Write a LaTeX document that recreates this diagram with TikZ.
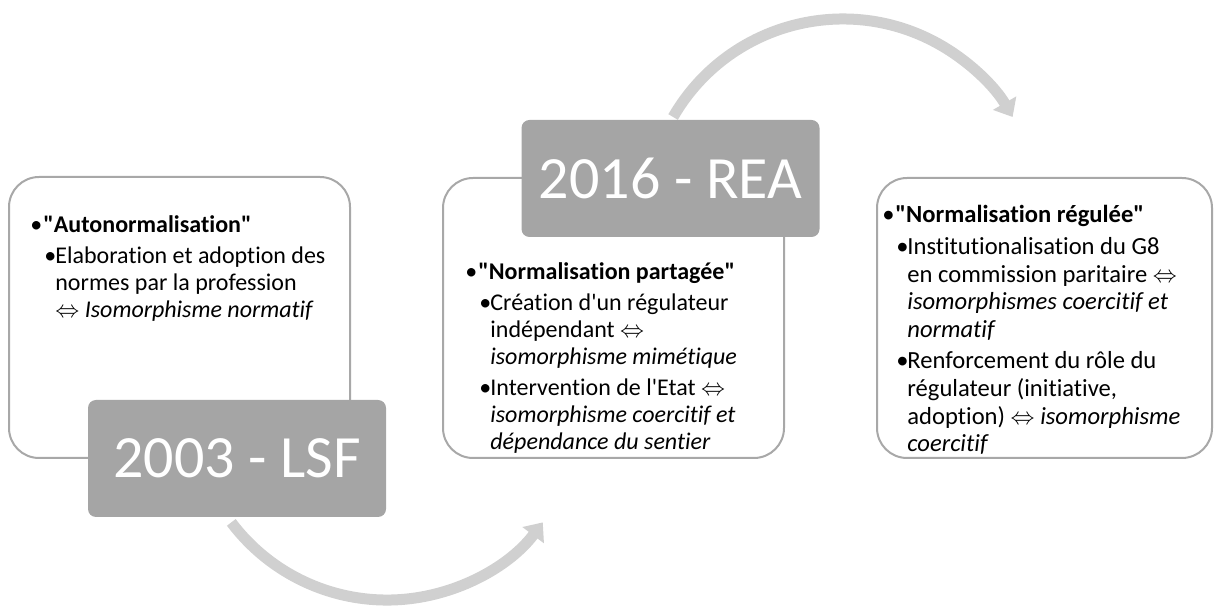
\documentclass[tikz,border=0pt]{standalone}
\usepackage{fontspec}
\defaultfontfeatures[\rmfamily]{Ligatures=CommonOff}
\setmainfont{Carlito}
\usepackage{xcolor}
\usetikzlibrary{arrows.meta, positioning}

\definecolor{framegray}{RGB}{168,168,168}
\definecolor{yeargray}{RGB}{165,165,165}
\definecolor{arcgray}{RGB}{208,208,208}

\newcommand{\phasehead}[1]{\noindent\makebox[6.5pt][l]{\textbullet}\textbf{#1}\par}
\newcommand{\phaseitem}[1]{{\leftskip=12.5pt\noindent\llap{\makebox[5.5pt][l]{\textbullet}}#1\par}}

\begin{document}
\begin{tikzpicture}[x=0.5pt, y=0.5pt,
    phasebox/.style={draw=framegray, fill=white, line width=1pt, rounded corners=15pt},
    yearbox/.style={fill=yeargray, rounded corners=4pt, inner sep=0pt,
        minimum width=149pt, minimum height=58.5pt, text=white,
        font=\fontsize{30pt}{36pt}\selectfont},
    arcarrow/.style={draw=arcgray, line width=5.5pt,
        -{Triangle[width=13pt, length=8pt]}},
    phasetext/.style={anchor=base west, inner sep=0pt, text width=170pt, align=flush left,
        font=\fontsize{12pt}{13.5pt}\selectfont,
        execute at begin node={\setlength{\parskip}{2pt}}}]
\useasboundingbox (0,0) rectangle (1215,610);

\draw[phasebox] (9,152) rectangle (350,433);
\draw[phasebox] (443,152) rectangle (784,432);
\draw[phasebox] (877,152) rectangle (1212,432);

\coordinate (low) at (231.3,87.6);
\coordinate (high) at (673.1,493);
\draw[arcarrow] (low) arc[start angle=217, end angle=323, radius=97.5pt];
\draw[arcarrow] (high) arc[start angle=150, end angle=30, radius=98pt];

\node[yearbox] (lsf) at (237,151.5) {2003 - LSF};
\node[yearbox] (rea) at (670.5,431.5) {2016 - REA};

\node[phasetext] (auto) at (30,377) {%
    \phasehead{"Autonormalisation"}
    \phaseitem{Elaboration et adoption des\newline
        normes par la profession\newline
        $\Leftrightarrow$ \textit{Isomorphisme normatif}}};

\node[phasetext] (partage) at (465,330) {%
    \phasehead{"Normalisation partagée"}
    \phaseitem{Création d'un régulateur\newline
        indépendant $\Leftrightarrow$\newline
        \textit{isomorphisme mimétique}}
    \phaseitem{Intervention de l'Etat $\Leftrightarrow$\newline
        \textit{isomorphisme coercitif et}\newline
        \textit{dépendance du sentier}}};

\node[phasetext, font=\fontsize{12.3pt}{13.8pt}\selectfont] (regule) at (882,387) {%
    \phasehead{"Normalisation régulée"}
    \phaseitem{Institutionalisation du G8\newline
        en commission paritaire $\Leftrightarrow$\newline
        \textit{isomorphismes coercitif et}\newline
        \textit{normatif}}
    \phaseitem{Renforcement du rôle du\newline
        régulateur (initiative,\newline
        adoption) $\Leftrightarrow$ \textit{isomorphisme}\newline
        \textit{coercitif}}};
\end{tikzpicture}
\end{document}
